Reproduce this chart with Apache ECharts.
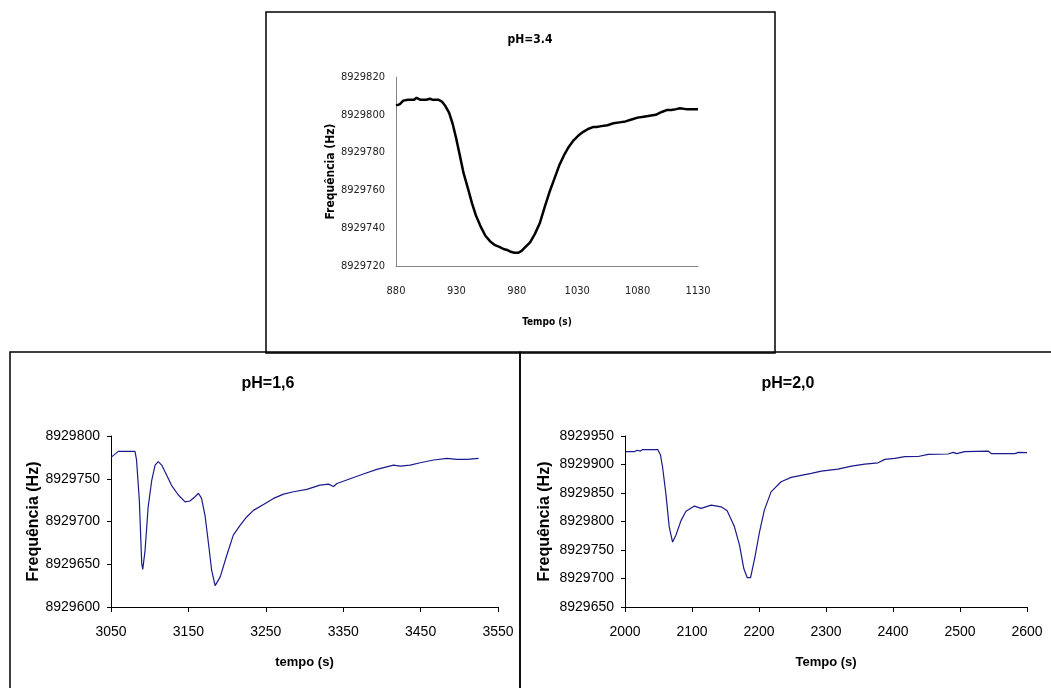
<!DOCTYPE html>
<html>
<head>
<meta charset="utf-8">
<script src="https://cdn.jsdelivr.net/npm/echarts@6/dist/echarts.min.js"></script>
<style>
  html, body { margin: 0; padding: 0; background: #fff; }
  #chart { width: 1051px; height: 688px; }
</style>
</head>
<body>
<div id="chart"></div>
<script>
// pH = 3.4 run: time (s) and frequency (Hz)
const tempoPH34 = [880, 883, 886, 890, 895, 897, 900, 905, 908, 910, 915, 918, 921, 924, 927, 930, 933, 936, 940, 943, 946, 950, 954, 958, 962, 966, 969, 972, 975, 978, 981, 984, 987, 991, 995, 999, 1003, 1007, 1011, 1015, 1019, 1023, 1027, 1031, 1035, 1039, 1043, 1046, 1050, 1055, 1060, 1065, 1070, 1075, 1080, 1085, 1090, 1095, 1100, 1104, 1108, 1112, 1115, 1120, 1125, 1130];
const freqPH34 = [8929805, 8929805.5, 8929807.5, 8929808, 8929808, 8929809, 8929808, 8929808, 8929808.5, 8929808, 8929808, 8929807, 8929804.5, 8929801, 8929795, 8929787, 8929778, 8929769, 8929760, 8929753, 8929747, 8929741, 8929736, 8929733, 8929731, 8929730, 8929729, 8929728.5, 8929727.5, 8929727, 8929727, 8929728, 8929730, 8929732.5, 8929737, 8929742.6, 8929751, 8929759, 8929766, 8929773, 8929778.5, 8929783, 8929786.5, 8929789, 8929791, 8929792.5, 8929793.5, 8929793.5, 8929794, 8929794.5, 8929795.5, 8929796, 8929796.5, 8929797.5, 8929798.5, 8929799, 8929799.5, 8929800, 8929801.5, 8929802.5, 8929802.5, 8929803, 8929803.5, 8929803, 8929803, 8929803];

// pH = 1,6 run
const tempoPH16 = [3050, 3059.5, 3081, 3083, 3086.6, 3089.7, 3091, 3094, 3098, 3102.6, 3107, 3111, 3115.5, 3122, 3128, 3137, 3145.7, 3152, 3158.6, 3163, 3167, 3171.5, 3176, 3180, 3184.5, 3186.6, 3191, 3199.6, 3208, 3217, 3225, 3234, 3247, 3260, 3273, 3286, 3303, 3320, 3331, 3337.5, 3342, 3359, 3376, 3393.5, 3415, 3423.7, 3436.6, 3449.5, 3466.8, 3484, 3497, 3510, 3525];
const freqPH16 = [8929775, 8929782, 8929782, 8929772, 8929725, 8929651, 8929644, 8929666, 8929717, 8929748, 8929766, 8929770, 8929766, 8929754, 8929742.6, 8929731, 8929723, 8929724, 8929729, 8929733, 8929727, 8929707, 8929674, 8929643, 8929625, 8929625, 8929635, 8929660.5, 8929684, 8929695.7, 8929705, 8929713, 8929720, 8929727, 8929732, 8929734.8, 8929737.5, 8929742.6, 8929743.7, 8929741, 8929744.5, 8929750, 8929755.5, 8929761, 8929766, 8929764.8, 8929766, 8929768.7, 8929771.9, 8929773.8, 8929772.6, 8929772.6, 8929773.8];

// pH = 2,0 run
const tempoPH20 = [2001.5, 2014, 2018, 2023, 2026, 2049, 2053, 2056, 2061, 2066, 2071, 2076, 2083.7, 2091, 2103.6, 2113.6, 2128.6, 2143.5, 2152.5, 2163.4, 2171, 2177.4, 2182.4, 2187.4, 2194, 2200.8, 2208, 2218, 2233, 2248, 2263, 2278, 2293, 2318, 2338, 2357.8, 2377.7, 2387.7, 2402.6, 2417.6, 2437.5, 2452.5, 2482, 2490, 2495, 2507, 2542, 2547, 2582, 2587, 2600];
const freqPH20 = [8929922.5, 8929922.5, 8929925, 8929923.6, 8929926, 8929926, 8929916.6, 8929896, 8929849, 8929790.6, 8929764, 8929776, 8929802, 8929818, 8929827, 8929823, 8929828.7, 8929825.8, 8929818.8, 8929790.6, 8929758, 8929717, 8929701.6, 8929701.6, 8929738, 8929782, 8929820, 8929852, 8929869.8, 8929877.4, 8929881, 8929884.4, 8929888.5, 8929892, 8929897, 8929900.8, 8929903, 8929909, 8929910.8, 8929913.7, 8929914, 8929917.8, 8929918.4, 8929921.3, 8929919, 8929922.5, 8929923.6, 8929919, 8929919, 8929921.3, 8929920.7];

// Tick labels
const ticksX34 = [880, 930, 980, 1030, 1080, 1130];
const ticksX16 = [3050, 3150, 3250, 3350, 3450, 3550];

const pairs = (xs, ys) => xs.map((x, i) => [x, ys[i]]);
const plain = (v) => String(v);

const narrow = "'DejaVu Sans Condensed', 'Liberation Sans Narrow', sans-serif";
const arial = "'Liberation Sans', Arial, sans-serif";

const chart = echarts.init(document.getElementById('chart'), null, { renderer: 'canvas' });

const bottomY = (min, max, gap) => ({
  type: 'value', min: min, max: max, interval: 50,
  axisLine: { show: true, lineStyle: { color: '#000', width: 1 } },
  axisTick: { show: true, length: 4, lineStyle: { color: '#000' } },
  axisLabel: { formatter: plain, fontFamily: arial, fontSize: 14, color: '#000', margin: 11 },
  splitLine: { show: false },
  name: 'Frequência (Hz)', nameLocation: 'middle', nameRotate: 90, nameGap: gap,
  nameTextStyle: { fontFamily: arial, fontSize: 16, fontWeight: 'bold', color: '#000' }
});

chart.setOption({
  animation: false,
  backgroundColor: '#fff',
  title: [
    { text: 'pH=3.4', left: 525, top: 29, textAlign: 'center',
      textStyle: { fontFamily: narrow, fontSize: 12, fontWeight: 'bold', color: '#000' } },
    { text: 'pH=1,6', left: 263, top: 371, textAlign: 'center',
      textStyle: { fontFamily: arial, fontSize: 16, fontWeight: 'bold', color: '#000' } },
    { text: 'pH=2,0', left: 783, top: 371, textAlign: 'center',
      textStyle: { fontFamily: arial, fontSize: 16, fontWeight: 'bold', color: '#000' } }
  ],
  graphic: [
    { type: 'rect', shape: { x: 266, y: 12, width: 509, height: 341 },
      style: { fill: null, stroke: '#000', lineWidth: 1.5 } },
    { type: 'rect', shape: { x: 10, y: 352, width: 510, height: 360 },
      style: { fill: null, stroke: '#000', lineWidth: 1.5 } },
    { type: 'rect', shape: { x: 520, y: 352, width: 560, height: 360 },
      style: { fill: null, stroke: '#000', lineWidth: 1.5 } }
  ],
  grid: [
    { left: 396, top: 77, width: 302, height: 189 },
    { left: 111, top: 436, width: 387, height: 171 },
    { left: 625, top: 436, width: 402, height: 171 }
  ],
  xAxis: [
    { gridIndex: 0, type: 'value', min: 880, max: 1130,
      axisLine: { show: true, lineStyle: { color: '#868686', width: 1 } },
      axisTick: { show: false },
      axisLabel: { customValues: ticksX34, formatter: plain, fontFamily: narrow, fontSize: 11, color: '#222', margin: 20 },
      splitLine: { show: false },
      name: 'Tempo (s)', nameLocation: 'middle', nameGap: 51,
      nameTextStyle: { fontFamily: narrow, fontSize: 10, fontWeight: 'bold', color: '#000' } },
    { gridIndex: 1, type: 'value', min: 3050, max: 3550,
      axisLine: { show: true, lineStyle: { color: '#000', width: 1 } },
      axisTick: { show: true, customValues: ticksX16, length: 5, lineStyle: { color: '#000' } },
      axisLabel: { customValues: ticksX16, formatter: plain, fontFamily: arial, fontSize: 14, color: '#000', margin: 18 },
      splitLine: { show: false },
      name: 'tempo (s)', nameLocation: 'middle', nameGap: 49,
      nameTextStyle: { fontFamily: arial, fontSize: 13, fontWeight: 'bold', color: '#000' } },
    { gridIndex: 2, type: 'value', min: 2000, max: 2600, interval: 100,
      axisLine: { show: true, lineStyle: { color: '#000', width: 1 } },
      axisTick: { show: true, length: 5, lineStyle: { color: '#000' } },
      axisLabel: { formatter: plain, fontFamily: arial, fontSize: 14, color: '#000', margin: 18 },
      splitLine: { show: false },
      name: 'Tempo (s)', nameLocation: 'middle', nameGap: 49,
      nameTextStyle: { fontFamily: arial, fontSize: 13, fontWeight: 'bold', color: '#000' } }
  ],
  yAxis: [
    { gridIndex: 0, type: 'value', min: 8929720, max: 8929820, interval: 20,
      axisLine: { show: true, lineStyle: { color: '#868686', width: 1 } },
      axisTick: { show: false },
      axisLabel: { formatter: plain, fontFamily: narrow, fontSize: 11, color: '#222', margin: 11 },
      splitLine: { show: false },
      name: 'Frequência (Hz)', nameLocation: 'middle', nameRotate: 90, nameGap: 58,
      nameTextStyle: { fontFamily: narrow, fontSize: 12, fontWeight: 'bold', color: '#000' } },
    Object.assign(bottomY(8929600, 8929800, 68), { gridIndex: 1 }),
    Object.assign(bottomY(8929650, 8929950, 72), { gridIndex: 2 })
  ],
  series: [
    { type: 'line', xAxisIndex: 0, yAxisIndex: 0, data: pairs(tempoPH34, freqPH34),
      showSymbol: false, lineStyle: { color: '#000', width: 2.5 } },
    { type: 'line', xAxisIndex: 1, yAxisIndex: 1, data: pairs(tempoPH16, freqPH16),
      showSymbol: false, lineStyle: { color: '#1a1a8c', width: 1.2 } },
    { type: 'line', xAxisIndex: 2, yAxisIndex: 2, data: pairs(tempoPH20, freqPH20),
      showSymbol: false, lineStyle: { color: '#1a1a8c', width: 1.2 } }
  ]
});
</script>
</body>
</html>
